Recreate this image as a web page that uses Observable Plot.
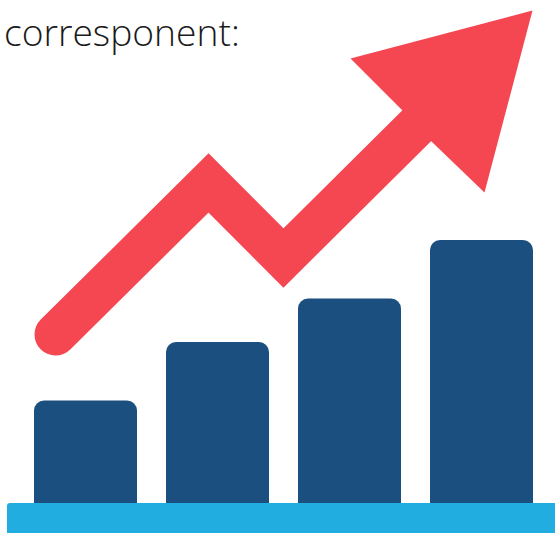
<!DOCTYPE html>
<html>
<head>
<meta charset="utf-8">
<script src="https://cdn.jsdelivr.net/npm/d3@7"></script>
<script src="https://cdn.jsdelivr.net/npm/@observablehq/plot@0.6"></script>
<style>
html,body{margin:0;padding:0;background:#fff;overflow:hidden}
svg{display:block}
</style>
</head>
<body>
<div id="chart"></div>
<script>
// Bars
const barStart = [34, 166, 298, 430];
const barEnd = [137, 269, 401, 533];
const barValue = [132.5, 191, 234.5, 293];
const barFloor = 20;
// Base strip
const baseX = [7, 600];
const baseY = [-10, 30];
// Trend line
const trendX = [55, 208, 283, 416.5, 450];
const trendY = [199, 350.5, 275.5, 408, 442];
// Arrow head
const headX = [350, 532, 484, 431, 402];
const headY = [475, 523, 341, 392, 423];
// Text
const labels = ["corresponent:"];
const labelX = [3.5];
const labelY = [488];

const bars = barValue.map((v, i) => ({x1: barStart[i], x2: barEnd[i], y: v}));
const trend = trendX.map((x, i) => ({x, y: trendY[i]}));
const head = headX.map((x, i) => ({x, y: headY[i]}));

const plot = Plot.plot({
  width: 555, height: 533,
  marginTop: 0, marginRight: 0, marginBottom: 0, marginLeft: 0,
  style: {background: "#fff"},
  x: {domain: [0, 555], range: [0, 555], axis: null},
  y: {domain: [0, 533], range: [533, 0], axis: null},
  marks: [
    Plot.text([labels[0]], {
      x: labelX[0], y: labelY[0], text: d => d,
      textAnchor: "start", fontSize: 37.2, fontWeight: 300, fontFamily: "Open Sans", fill: "#1a1a1a", lineAnchor: "bottom"
    }),
    Plot.rect(bars, {x1: "x1", x2: "x2", y1: barFloor, y2: "y", fill: "#1a4f80", rx: 10}),
    Plot.rect([0], {x1: baseX[0], x2: baseX[1], y1: baseY[0], y2: baseY[1], fill: "#21ade0", rx: 3}),
    Plot.line(trend, {x: "x", y: "y", stroke: "#f54752", strokeWidth: 42, strokeLinecap: "round", strokeLinejoin: "miter", strokeMiterlimit: 10}),
    Plot.line(head, {x: "x", y: "y", fill: "#f54752", stroke: "none"})
  ]
});
document.getElementById("chart").append(plot);
</script>
</body>
</html>
